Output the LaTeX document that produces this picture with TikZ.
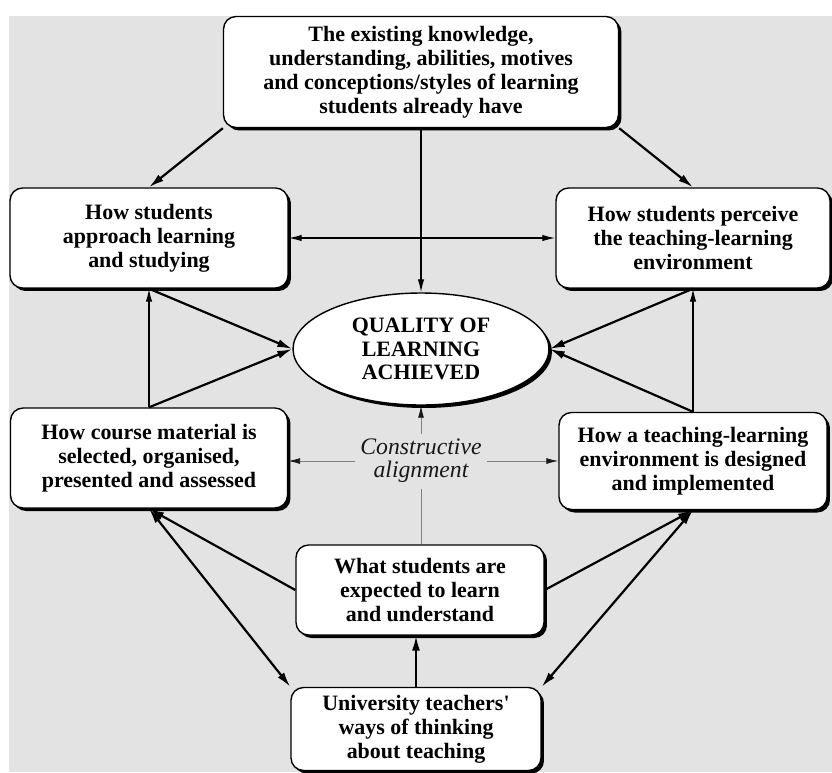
\documentclass[tikz,border=0pt]{standalone}
\usepackage{fontspec}
\setmainfont{Liberation Serif}
\usetikzlibrary{shapes.geometric,shadows,arrows.meta}
\definecolor{backdrop}{RGB}{227,227,227}

\begin{document}
\begin{tikzpicture}[x=0.02cm,y=-0.02cm,
    stage/.style={draw,fill=white,rounded corners=0.25cm,line width=.8pt,align=center,inner sep=0,
        font=\fontsize{12.5}{13.7}\selectfont\bfseries,
        drop shadow={shadow xshift=.06cm,shadow yshift=-.06cm,fill=black,opacity=1}},
    goal/.style={ellipse,draw,fill=white,line width=.8pt,align=center,inner sep=0,
        font=\fontsize{12.5}{13.4}\selectfont\bfseries,
        drop shadow={shadow xshift=.06cm,shadow yshift=-.06cm,fill=black,opacity=1}},
    link/.style={>={Latex[length=3mm,width=1.6mm]},line width=1.25pt},
    thinlink/.style={>={Latex[length=2.6mm,width=1.3mm]},line width=.75pt},
    aligned/.style={>={Latex[length=2.4mm,width=1.2mm,color=black!90]},->,draw=black!50,line width=.5pt}]
        \useasboundingbox(0,0)rectangle(832,772);
        \fill[backdrop](9,16)rectangle(832,772);
        % boxes
        \node[stage,minimum width=7.9cm,minimum height=2.22cm](prior)at(421,72){The existing knowledge,\\understanding, abilities, motives\\and conceptions/styles of learning\\students already have};
        \node[stage,minimum width=5.56cm,minimum height=2cm](approach)at(149,238){How students\\approach learning\\and studying};
        \node[stage,minimum width=5.48cm,minimum height=2cm](perceive)at(693,238){How students perceive\\the teaching-learning\\environment};
        \node[goal,minimum width=5.12cm,minimum height=2.24cm](quality)at(421,349){QUALITY OF\\LEARNING\\ACHIEVED};
        \node[stage,minimum width=5.54cm,minimum height=2cm](material)at(149,458){How course material is\\selected, organised,\\presented and assessed};
        \node[stage,minimum width=5.36cm,minimum height=1.94cm](design)at(693,461){How a teaching-learning\\environment is designed\\and implemented};
        \node[font=\fontsize{13.5}{13.1}\selectfont\itshape,text=black!90,align=center,inner sep=3pt](constr)at(421,461){Constructive\\alignment};
        \node[stage,minimum width=4.96cm,minimum height=1.8cm](expected)at(420,590){What students are\\expected to learn\\and understand};
        \node[stage,minimum width=5cm,minimum height=1.66cm](teachers)at(416,729){University teachers\textquotesingle\\ways of thinking\\about teaching};
        % upper half
        \draw[link,->](prior.south west)--(approach.north);
        \draw[link,->](prior.south east)--(perceive.north);
        \draw[thinlink,->](prior)--(quality);
        \draw[thinlink,<->](approach)--(perceive);
        \draw[link,->](approach.south)--(quality.west);
        \draw[link,->](perceive.south)--(quality.east);
        \draw[thinlink,->](material.north)--(approach.south);
        \draw[link,->](material.north)--(quality.west);
        \draw[thinlink,->](design.north)--(perceive.south);
        \draw[link,->](design.north)--(quality.east);
        % constructive alignment
        \draw[aligned](constr.west)--(constr.west-|material.east);
        \draw[aligned](constr.east)--(constr.east-|design.west);
        \draw[aligned](constr.north)--(constr.north|-quality.south);
        \draw[aligned,-](constr.south)--(constr.south|-expected.north);
        % lower half
        \draw[link,->](expected.west)--(material.south);
        \draw[link,->](expected.east)--(design.south);
        \draw[link,<->](teachers.north west)--(material.south);
        \draw[link,<->](teachers.north east)--(design.south);
        \draw[link,->](teachers.north)--(teachers.north|-expected.south);
\end{tikzpicture}
\end{document}
